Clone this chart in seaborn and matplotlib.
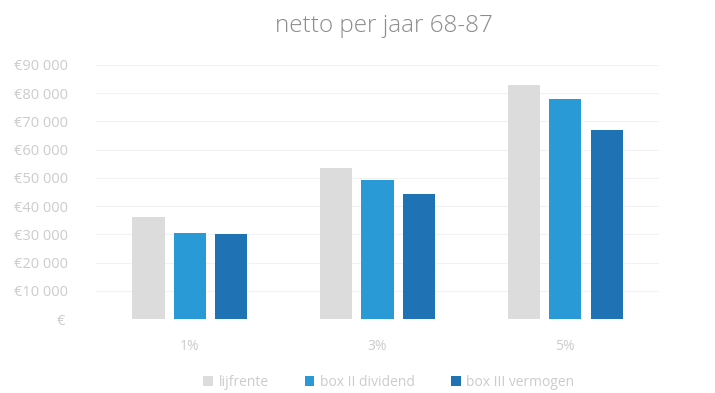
import matplotlib
matplotlib.use("Agg")
import matplotlib.pyplot as plt
import matplotlib.transforms as mtransforms
import seaborn as sns
import pandas as pd
from matplotlib.ticker import FuncFormatter

categories = ["1%", "3%", "5%"]
series_names = ["lijfrente", "box II dividend", "box III vermogen"]
lijfrente = [36000, 53500, 83000]
box_ii = [30600, 49300, 77800]
box_iii = [30000, 44400, 66900]
y_ticks = [0, 10000, 20000, 30000, 40000, 50000, 60000, 70000, 80000, 90000]

rows = []
for name, vals in zip(series_names, [lijfrente, box_ii, box_iii]):
    for c, v in zip(categories, vals):
        rows.append({"cat": c, "serie": name, "val": v})
df = pd.DataFrame(rows)

sns.set_theme(style="white")
plt.rcParams["font.family"] = ["Open Sans", "DejaVu Sans"]

fig = plt.figure(figsize=(7.15, 3.93), dpi=100)
ax = fig.add_axes([0.134, 0.188, 0.788, 0.647])

palette = ["#dcdcdc", "#2a9ad6", "#1f72b3"]
sns.barplot(data=df, x="cat", y="val", hue="serie", order=categories,
            hue_order=series_names, palette=palette, width=0.66, gap=0.22,
            saturation=1, linewidth=0, ax=ax, legend=True)

ax.set_ylim(0, 90000)
ax.set_yticks(y_ticks)
def fmt(v, pos):
    if v == 0:
        return "€"
    s = f"{int(v):,}".replace(",", " ")
    return f"€{s}"
ax.yaxis.set_major_formatter(FuncFormatter(fmt))
ax.grid(axis="y", color="#f2f2f2", linewidth=0.8)
ax.set_axisbelow(True)
for s in ax.spines.values():
    s.set_visible(False)
ax.tick_params(axis="both", length=0, colors="#cccccc")
ax.tick_params(axis="y", labelsize=10.5, pad=20)
ax.tick_params(axis="x", labelsize=10, pad=14)
ax.set_xlabel("")
ax.set_ylabel("")

zero_tick = ax.yaxis.get_major_ticks()[0]
lbl = zero_tick.label1
lbl.set_transform(lbl.get_transform() + mtransforms.ScaledTranslation(-0.03, 0, fig.dpi_scale_trans))

fig.text(0.537, 0.935, "netto per jaar 68-87", ha="center", va="center",
         fontsize=17.5, color="#8c8c8c", fontweight="light")

leg = ax.legend(loc="center", bbox_to_anchor=(0.52, -0.25), ncol=3, frameon=False,
                fontsize=10, handlelength=0.7, handleheight=0.7, columnspacing=2.6,
                handletextpad=0.4)
for t in leg.get_texts():
    t.set_color("#cccccc")

fig.savefig("out.png", dpi=100)
